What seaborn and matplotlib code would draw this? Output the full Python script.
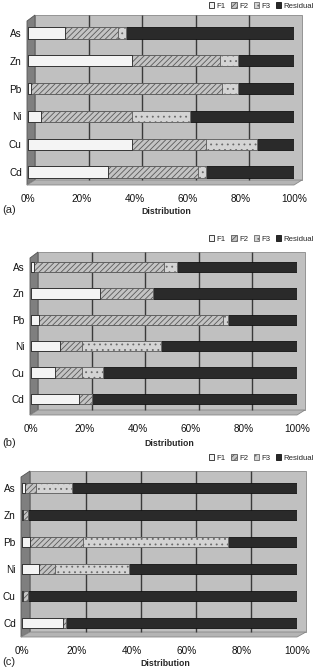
import matplotlib
matplotlib.use("Agg")
import matplotlib.pyplot as plt
import matplotlib.transforms as mtrans
from matplotlib.patches import Patch, Polygon
import seaborn as sns

# ── data ─────────────────────────────────────────────────────────────────────
ELEMENTS = ["As", "Zn", "Pb", "Ni", "Cu", "Cd"]
FRACTIONS = ["F1", "F2", "F3", "Residual"]
TICKS = [0, 20, 40, 60, 80, 100]
TICK_LABELS = ["0%", "20%", "40%", "60%", "80%", "100%"]
PANEL_TAGS = ["(a)", "(b)", "(c)"]

# panel (a)
A_F1 = [14, 39, 1, 5, 39, 30]
A_F2 = [20, 33, 72, 34, 28, 34]
A_F3 = [3, 7, 6, 22, 19, 3]
A_RES = [63, 21, 21, 39, 14, 33]

# panel (b)
B_F1 = [1, 26, 3, 11, 9, 18]
B_F2 = [49, 20, 69, 8, 10, 5]
B_F3 = [5, 0, 2, 30, 8, 0]
B_RES = [45, 54, 26, 51, 73, 77]

# panel (c)
C_F1 = [1, 0.5, 3, 6, 0.5, 15]
C_F2 = [4, 1.5, 19, 6, 1.5, 1]
C_F3 = [13, 0, 53, 27, 0, 0]
C_RES = [82, 98, 25, 61, 98, 84]

# ── style ────────────────────────────────────────────────────────────────────
W, H = 320, 672
FILL = {"F1": "#f4f4f4", "F2": "#c4c4c4", "F3": "#d4d4d4", "Residual": "#2a2a2a"}
HATCH = {"F1": "", "F2": "//////", "F3": "...", "Residual": ""}
EDGE = {"F1": "#222222", "F2": "#5a5a5a", "F3": "#6a6a6a", "Residual": "#111111"}

# pixel layout of each panel: x0/x1 = 0%/100% on the front plane
LAYOUT = [
    dict(x0=28, x1=294, top=15, wall_bot=180, floor=185, c0=33, c5=172, dx=8, leg=6, lab=211),
    dict(x0=31, x1=297, top=252, wall_bot=410, floor=415, c0=267, c5=399, dx=8, leg=239, lab=444),
    dict(x0=22, x1=297, top=471, wall_bot=632, floor=637, c0=488, c5=623, dx=9, leg=458, lab=663),
]

sns.set_theme(style="white")
plt.rcParams["font.family"] = ["Liberation Sans", "DejaVu Sans"]
plt.rcParams["hatch.linewidth"] = 0.6

fig = plt.figure(figsize=(W / 100, H / 100), dpi=100)
fig.patch.set_facecolor("white")
pix = mtrans.Affine2D().scale(1 / W, -1 / H).translate(0, 1) + fig.transFigure


def draw_panel(L, series, tag):
    ax = fig.add_axes([L["x0"] / W, 1 - L["floor"] / H,
                       (L["x1"] - L["x0"]) / W, (L["floor"] - L["top"]) / H])
    ax.set_facecolor("none")
    x0, x1, dx = L["x0"], L["x1"], L["dx"]

    # 3-D style walls (decoration)
    back = Polygon([(x0 + dx - 1, L["top"]), (x1 + dx, L["top"]),
                    (x1 + dx, L["wall_bot"]), (x0 + dx - 1, L["wall_bot"])],
                   closed=True, transform=pix, facecolor="#c0c0c0",
                   edgecolor="#888888", lw=0.6, zorder=0, clip_on=False)
    side = Polygon([(x0 - 1, L["top"] + 6), (x0 + dx - 1, L["top"]),
                    (x0 + dx - 1, L["wall_bot"]), (x0 - 1, L["floor"])],
                   closed=True, transform=pix, facecolor="#7f7f7f",
                   edgecolor="#555555", lw=0.6, zorder=0, clip_on=False)
    floor = Polygon([(x0 - 1, L["floor"]), (x0 + dx - 1, L["wall_bot"]),
                     (x1 + dx, L["wall_bot"]), (x1, L["floor"])],
                    closed=True, transform=pix, facecolor="#b4b4b4",
                    edgecolor="#888888", lw=0.6, zorder=0, clip_on=False)
    for p in (back, side, floor):
        ax.add_patch(p)

    # back-wall gridlines, shifted by the depth offset
    off = mtrans.ScaledTranslation(dx / 100, 0, fig.dpi_scale_trans)
    gtr = mtrans.blended_transform_factory(ax.transData + off, pix)
    ax.vlines(TICKS[1:-1], L["top"], L["wall_bot"], transform=gtr,
              colors="#3a3a3a", lw=1.0, zorder=1)

    # stacked bars: draw cumulative totals from the back to the front
    f1, f2, f3, res = series
    parts = {"F1": f1, "F2": f2, "F3": f3, "Residual": res}
    cum = {}
    run = [0] * len(ELEMENTS)
    for name in FRACTIONS:
        run = [a + b for a, b in zip(run, parts[name])]
        cum[name] = run
    for name in reversed(FRACTIONS):
        n_before = len(ax.patches)
        sns.barplot(x=cum[name], y=ELEMENTS, orient="h", color=FILL[name],
                    width=0.4, saturation=1, ax=ax, zorder=3)
        for bar in ax.patches[n_before:]:
            bar.set_facecolor(FILL[name])
            bar.set_edgecolor(EDGE[name])
            bar.set_linewidth(0.6)
            bar.set_hatch(HATCH[name])

    # category placement matching the picture
    step = (L["c5"] - L["c0"]) / 5
    ax.set_ylim(5 + (L["floor"] - L["c5"]) / step, -(L["c0"] - L["top"]) / step)
    ax.set_xlim(0, 100)
    ax.set_xticks(TICKS)
    ax.set_xticklabels(TICK_LABELS)
    ax.tick_params(axis="x", length=0, pad=6.5, labelsize=7.2, colors="#111111")
    ax.tick_params(axis="y", length=0, pad=4.5, labelsize=7.2, colors="#111111")
    ax.set_ylabel("")
    ax.set_xlabel("")
    for s in ax.spines.values():
        s.set_visible(False)

    fig.text(0.5 * (x0 + x1 + dx) / W + 0.005, 1 - L["lab"] / H, "Distribution",
             ha="center", va="center", fontsize=6.3, fontweight="bold")
    fig.text(2 / W, 1 - (L["lab"] - 1) / H, tag, ha="left", va="center", fontsize=8)

    handles = [Patch(facecolor=FILL[n], edgecolor=EDGE[n], hatch=HATCH[n], lw=0.6)
               for n in FRACTIONS]
    fig.legend(handles, FRACTIONS, loc="center right",
               bbox_to_anchor=(314 / W, 1 - L["leg"] / H), ncol=4, frameon=False,
               fontsize=5.6, handlelength=0.7, handleheight=0.7,
               handletextpad=0.3, columnspacing=0.7, borderpad=0, borderaxespad=0)
    return ax


all_series = [(A_F1, A_F2, A_F3, A_RES), (B_F1, B_F2, B_F3, B_RES), (C_F1, C_F2, C_F3, C_RES)]
for L, series, tag in zip(LAYOUT, all_series, PANEL_TAGS):
    draw_panel(L, series, tag)

fig.savefig("out.png", dpi=100)
